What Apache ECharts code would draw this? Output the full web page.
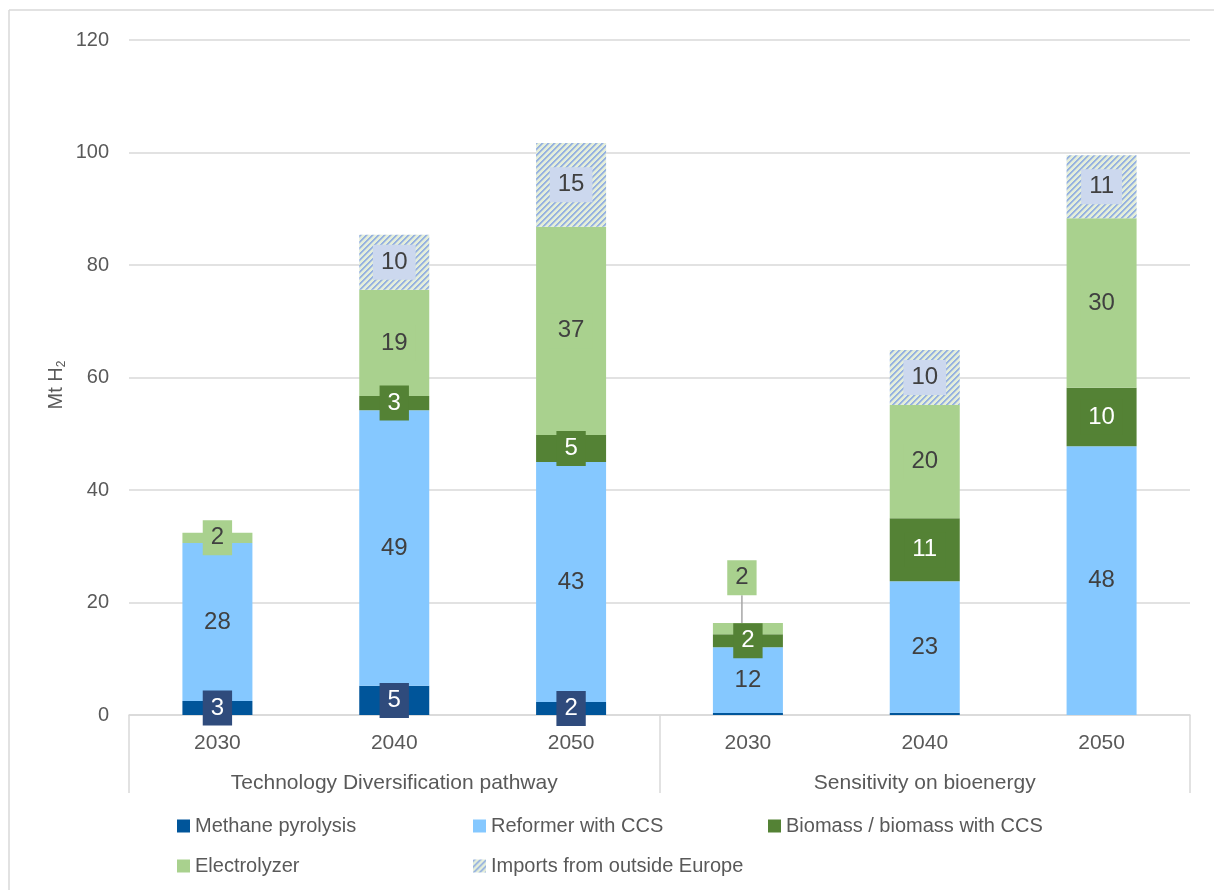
<!DOCTYPE html>
<html>
<head>
<meta charset="utf-8">
<script src="https://cdn.jsdelivr.net/npm/echarts@6/dist/echarts.min.js"></script>
<style>
html,body{margin:0;padding:0;background:#fff;}
#c{width:1214px;height:890px;}
</style>
</head>
<body>
<div id="c"></div>
<script>
const categories = ['2030', '2040', '2050', '2030', '2040', '2050'];
const groups = ['Technology Diversification pathway', 'Sensitivity on bioenergy'];
const seriesNames = ['Methane pyrolysis', 'Reformer with CCS', 'Biomass / biomass with CCS', 'Electrolyzer', 'Imports from outside Europe'];
const methane = [2.5, 5.2, 2.3, 0.35, 0.4, 0];
const reformer = [28.1, 49, 42.7, 11.7, 23.4, 47.8];
const biomass = [0, 2.5, 4.8, 2.3, 11.2, 10.4];
const electrolyzer = [1.8, 18.9, 37, 2.0, 20.1, 30.1];
const imports = [0, 9.8, 14.9, 0, 9.8, 11.2];

const FONT = "'Liberation Sans', Arial, sans-serif";

function hatch() {
  const s = 6;
  const cv = document.createElement('canvas');
  cv.width = s; cv.height = s;
  const ctx = cv.getContext('2d');
  const img = ctx.createImageData(s, s);
  for (let y = 0; y < s; y++) for (let x = 0; x < s; x++) {
    const k = (x + y) % s;
    let c;
    if (k < 2) c = [150, 178, 224];
    else if (k === 2) c = [190, 208, 222];
    else c = [228, 238, 218];
    const i = (y * s + x) * 4;
    img.data[i] = c[0]; img.data[i + 1] = c[1]; img.data[i + 2] = c[2]; img.data[i + 3] = 255;
  }
  ctx.putImageData(img, 0, 0);
  return cv;
}

const colors = ['#00559A', '#85C8FF', '#548235', '#A9D18E', { image: hatch(), repeat: 'repeat' }];
const labelBg = ['#2F4B7C', 'transparent', '#548235', '#A9D18E', '#CCD8EE'];
const labelColor = ['#ffffff', '#404040', '#ffffff', '#404040', '#404040'];
const values = [methane, reformer, biomass, electrolyzer, imports];

const series = values.map((arr, si) => ({
  name: seriesNames[si],
  type: 'bar',
  stack: 'total',
  barWidth: 70,
  itemStyle: { color: colors[si] },
  label: {
    show: true,
    position: 'inside',
    formatter: p => String(Math.round(p.value)),
    fontFamily: FONT,
    fontSize: 24,
    lineHeight: 25,
    color: labelColor[si],
    backgroundColor: labelBg[si],
    padding: [5, 8, 5, 8]
  },
  labelLine: { show: false, lineStyle: { color: '#A6A6A6', width: 1.5 } },
  labelLayout: (si === 3) ? function (p) {
    if (p.dataIndex === 3) return { dx: -6, dy: -51 };
    return {};
  } : undefined,
  emphasis: { disabled: true },
  data: arr.map((v, i) => {
    const item = { value: v };
    if (v < 1) item.label = { show: false };
    if (si === 3 && i === 3) item.labelLine = { show: true, lineStyle: { color: '#A6A6A6', width: 1.5 } };
    return item;
  })
}));

const chart = echarts.init(document.getElementById('c'), null, { renderer: 'canvas' });
const legendBase = {
  orient: 'vertical',
  icon: 'rect',
  itemWidth: 13,
  itemHeight: 13,
  itemGap: 20,
  padding: 0,
  top: 816,
  selectedMode: false,
  textStyle: { fontFamily: FONT, fontSize: 20, color: '#595959' }
};
chart.setOption({
  animation: false,
  backgroundColor: '#ffffff',
  grid: { left: 129, right: 24, top: 40, bottom: 175, containLabel: false },
  legend: [
    Object.assign({}, legendBase, { left: 177, data: [seriesNames[0], seriesNames[3]] }),
    Object.assign({}, legendBase, { left: 473, data: [seriesNames[1], seriesNames[4]] }),
    Object.assign({}, legendBase, { left: 768, data: [seriesNames[2]] })
  ],
  xAxis: [
    {
      type: 'category',
      data: categories,
      axisLine: { show: true, lineStyle: { color: '#D9D9D9', width: 1.5 } },
      axisTick: { show: false },
      axisLabel: { fontFamily: FONT, fontSize: 21, color: '#595959', margin: 18 }
    },
    {
      type: 'category',
      data: groups,
      position: 'bottom',
      axisLine: { show: false },
      axisTick: { show: true, length: 78, lineStyle: { color: '#D9D9D9', width: 1.5 } },
      axisLabel: { fontFamily: FONT, fontSize: 21, color: '#595959', margin: 58 }
    }
  ],
  yAxis: {
    type: 'value',
    min: 0,
    max: 120,
    interval: 20,
    axisLine: { show: false },
    axisTick: { show: false },
    splitLine: { lineStyle: { color: '#D9D9D9', width: 1.5 } },
    axisLabel: { fontFamily: FONT, fontSize: 20, color: '#595959', margin: 20 }
  },
  graphic: [
    { type: 'line', shape: { x1: 9, y1: 10, x2: 1214, y2: 10 }, style: { stroke: '#D9D9D9', lineWidth: 1.5 } },
    { type: 'line', shape: { x1: 9, y1: 10, x2: 9, y2: 890 }, style: { stroke: '#D9D9D9', lineWidth: 1.5 } },
    {
      type: 'text', x: 56, y: 385, rotation: Math.PI / 2,
      style: {
        text: '{a|Mt H}{s|2}',
        align: 'center', verticalAlign: 'middle',
        rich: {
          a: { fontFamily: FONT, fontSize: 20, fill: '#595959', lineHeight: 24 },
          s: { fontFamily: FONT, fontSize: 12, fill: '#595959', lineHeight: 12, verticalAlign: 'bottom' }
        }
      }
    }
  ],
  series: series
});
</script>
</body>
</html>
